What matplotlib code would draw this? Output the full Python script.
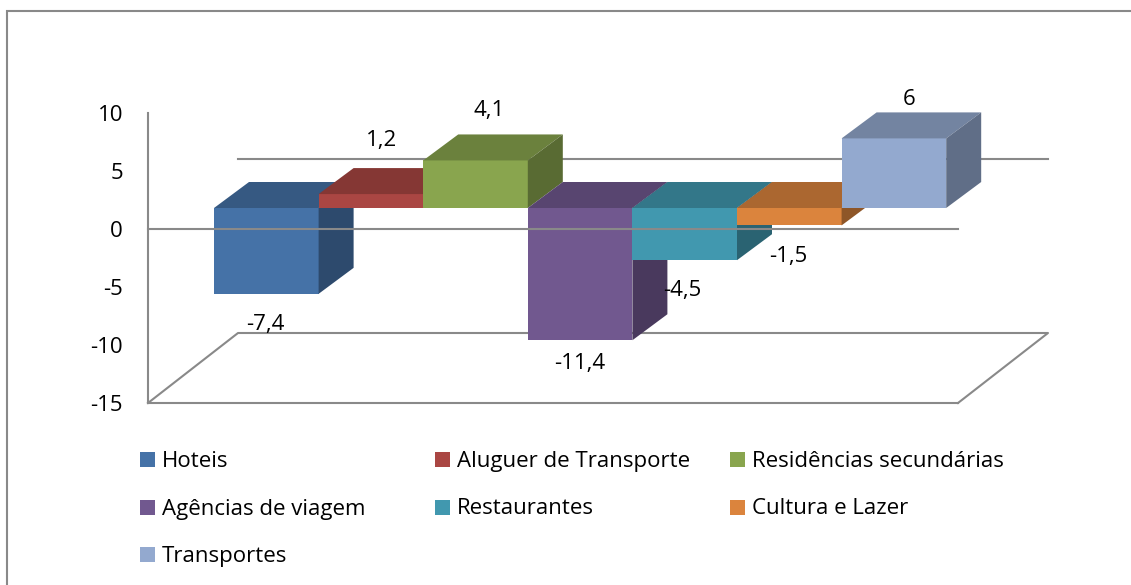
import numpy as np
import matplotlib.pyplot as plt
import matplotlib.colors as mcolors
from matplotlib.patches import Polygon, Rectangle

#   Data of the chart
categorias = ['Hoteis', 'Aluguer de Transporte', 'Residências secundárias',
              'Agências de viagem', 'Restaurantes', 'Cultura e Lazer', 'Transportes']
valores = [-7.4, 1.2, 4.1, -11.4, -4.5, -1.5, 6]
cores = ['#4572A7', '#AA4643', '#89A54E', '#71588F', '#4198AF', '#DB843D', '#93A9CF']
yticks = [-15, -10, -5, 0, 5, 10]

#   Label nudges (pixels) like Excel places them
lab_off = [(-1, -31), (11, 54), (14, 50), (0, -23), (-2, -30), (-1, -31), (15, 39)]

W, H = 1131, 585
plt.rcParams['font.family'] = ['Open Sans', 'DejaVu Sans']
plt.rcParams['axes.unicode_minus'] = False
fs = 16
cinza = '#898989'

fig = plt.figure(figsize=(W / 100, H / 100), dpi=100)
ax = fig.add_axes([148 / W, 182 / H, 810 / W, 290 / H])

#   Axis limits (one category = one bar width)
xmin, xmax = -0.873, 6.871
ymin, ymax = yticks[0], yticks[-1]
ax.set_xlim(xmin, xmax)
ax.set_ylim(ymin, ymax)

#   Pseudo 3D depth: floor depth, bar shift and bar depth
DX, DY = 90 / 104.6, 70 / 11.6
sx, sy = 0.3 * DX, 0.3 * DY
bdx, bdy = 35 / 104.6, 26 / 11.6

#   Floor and back wall zero line
ax.plot([xmin, xmin + DX, xmax + DX, xmax], [ymin, ymin + DY, ymin + DY, ymin],
        color=cinza, lw=1.5, clip_on=False, zorder=1)
ax.plot([xmin + DX, xmax + DX], [DY, DY], color=cinza, lw=1.5, clip_on=False, zorder=1)

#   Bars, drawn left to right
x = np.arange(len(valores))
for i, v in enumerate(valores):
    c = np.array(mcolors.to_rgb(cores[i]))
    top_c = c * 0.78
    side_c = c * 0.65
    z = 5 + i
    ax.bar(x[i] + sx, v, width=1.0, bottom=sy, color=cores[i], zorder=z, clip_on=False)
    xl, xr = x[i] - 0.5 + sx, x[i] + 0.5 + sx
    yt, yb = max(sy, sy + v), min(sy, sy + v)
    topo = Polygon([(xl, yt), (xr, yt), (xr + bdx, yt + bdy), (xl + bdx, yt + bdy)],
                   closed=True, fc=top_c, ec='none', zorder=z, clip_on=False)
    lado = Polygon([(xr, yb), (xr, yt), (xr + bdx, yt + bdy), (xr + bdx, yb + bdy)],
                   closed=True, fc=side_c, ec='none', zorder=z, clip_on=False)
    ax.add_patch(topo)
    ax.add_patch(lado)
    txt = ('%g' % v).replace('.', ',')
    ax.annotate(txt, xy=(x[i] + sx, sy + v), xytext=lab_off[i], textcoords='offset pixels',
                ha='center', va='center', fontsize=fs, zorder=40, annotation_clip=False)

#   Front zero line over the bars
ax.plot([xmin, xmax], [0, 0], color=cinza, lw=1.5, zorder=30, clip_on=False)

#   Axis style
for s in ['top', 'right']:
    ax.spines[s].set_visible(False)
for s in ['left', 'bottom']:
    ax.spines[s].set_color(cinza)
    ax.spines[s].set_linewidth(1.5)
ax.set_yticks(yticks)
ax.set_xticks([])
ax.tick_params(axis='y', length=0, pad=18, labelsize=fs)
ax.patch.set_alpha(0)

#   Legend in three columns, row by row
for i, nome in enumerate(categorias):
    col, lin = i % 3, i // 3
    mx = 140 + 295 * col
    my = 467 + 47.5 * lin
    fig.add_artist(Rectangle((mx / W, 1 - my / H), 15 / W, 15 / H,
                             transform=fig.transFigure, fc=cores[i], ec='none'))
    fig.text((mx + 22) / W, 1 - my / H, nome, fontsize=fs, va='baseline', ha='left')

#   Outer border of the chart
fig.add_artist(Rectangle((7 / W, -0.1), 2, (H - 10.5) / H + 0.1, transform=fig.transFigure,
                         fill=False, ec=cinza, lw=1.5))

fig.savefig('out.png', dpi=100)
